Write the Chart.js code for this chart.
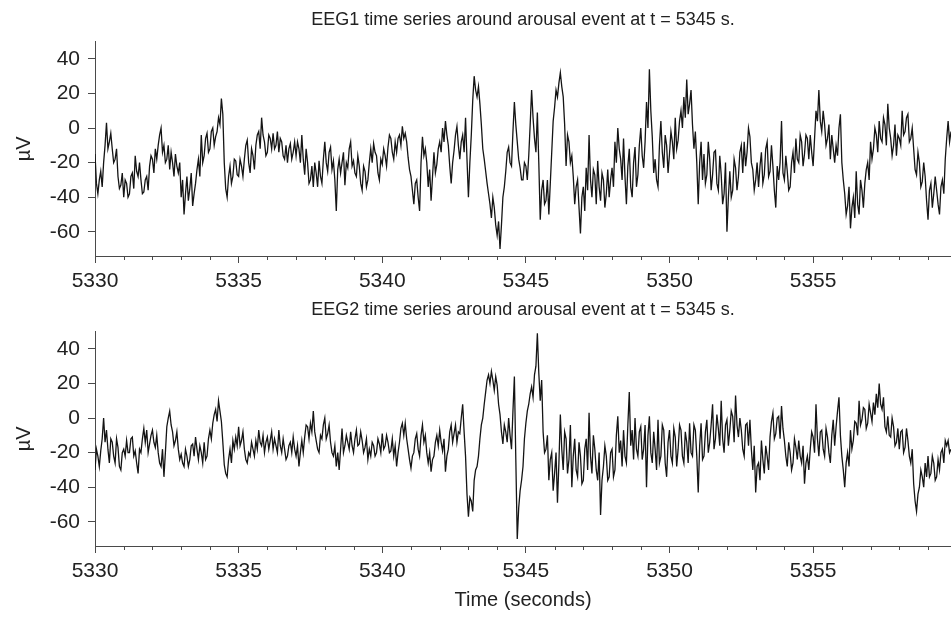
<!DOCTYPE html>
<html>
<head>
<meta charset="utf-8">
<script src="https://cdn.jsdelivr.net/npm/chart.js@4.4.1/dist/chart.umd.min.js"></script>
<style>
    html, body { margin: 0; padding: 0; background: #fff; }
    #page { position: relative; width: 951px; height: 617px; overflow: hidden; }
    .panel { position: absolute; left: 0; width: 951px; }
</style>
</head>
<body>
<div id="page">
    <div class="panel" style="top:0px;height:300px"><canvas id="eeg1" width="951" height="300"></canvas></div>
    <div class="panel" style="top:290px;height:327px"><canvas id="eeg2" width="951" height="327"></canvas></div>
</div>
<script>
// Sampling of the traced curves (seconds). Main values sit on the 0.1 s grid,
// the "mid" values are the opposite extreme read halfway between them.
const startTime = 5330;
const sampleStep = 0.1;

// EEG1, in µV, one row per second
const eeg1Values = [
    -15, -38, -25, -20, 3, -8, -12, -18, -28, -33,
    -40, -32, -38, -26, -16, -28, -30, -37, -28, -22,
    -18, -12, -10, 0, -10, -18, -24, -20, -15, -26,
    -40, -50, -28, -35, -45, -32, -18, -4, -16, -3,
    -12, 0, -5, 6, 17, -20, -40, -22, -28, -19,
    -28, -22, -18, -7, -26, -16, -10, -2, 6, -8,
    -14, -6, -3, -10, -14, -8, -18, -20, -9, -14,
    -16, -12, -4, -27, -20, -30, -34, -26, -19, -32,
    -8, -25, -11, -19, -48, -18, -20, -33, -23, -8,
    -19, -28, -22, -36, -25, -30, -12, -9, -16, -30,
    -21, -16, -11, -6, -18, -14, -4, 1, -3, -17,
    -28, -44, -30, -48, -5, -12, -34, -42, -14, -21,
    -8, 0, 4, -10, -32, -13, 1, -18, -4, 6,
    -40, -4, 30, 18, 14, -12, -25, -38, -52, -46,
    -62, -70, -40, -25, -11, -22, 15, -8, -23, -30,
    -22, -16, 22, -6, 9, -53, -30, -42, -50, -14,
    12, 18, 32, 18, -22, -8, -16, -44, -30, -61,
    -34, -23, -4, -40, -27, -19, -42, -30, -38, -40,
    -23, -8, 0, -18, -6, -44, -12, -40, -11, -27,
    0, -23, 15, 34, -5, -18, -34, 4, -23, -10,
    -15, -8, 6, -7, 10, 18, 28, 14, 2, -2,
    -44, -8, -15, -27, -18, -27, -13, -36, -27, -38,
    -60, -25, -36, -23, -28, -10, -8, -14, -5, -24,
    -30, -34, -14, -27, -8, -25, -22, -46, -30, 4,
    -30, -25, -34, -14, -6, -20, -8, -15, -6, -4,
    -22, 10, 22, -2, 2, -6, -18, -12, -10, 0,
    -20, -38, -45, -58, -40, -25, -50, -36, -32, -20,
    -8, -12, -4, 4, -8, 2, 14, -6, -10, -16,
    -6, 10, -2, 8, -6, -12, -27, -20, -31, -28,
    -53, -32, -38, -36, -50, -30, -18, 4, -2
];
const eeg1Mid = [
    -32, -30, -34, -10, -12, -3, -20, -12, -35, -26,
    -30, -40, -28, -35, -25, -20, -38, -30, -36, -16,
    -26, -18, -4, -14, -20, -10, -14, -28, -22, -20,
    -30, -38, -42, -26, -38, -24, -28, -20, -6, -14,
    -2, -10, -2, 2, 8, -35, -28, -32, -18, -27,
    -18, -28, -10, -20, -12, -24, -4, -12, -4, -16,
    -4, -12, -12, -2, -6, -16, -10, -12, -18, -8,
    -8, -20, -18, -12, -32, -22, -20, -34, -28, -18,
    -20, -14, -24, -30, -24, -26, -14, -20, -12, -22,
    -26, -16, -32, -22, -34, -20, -20, -14, -26, -18,
    -12, -22, -4, -14, -8, -6, -10, -6, -8, -24,
    -36, -32, -40, -20, -16, -20, -24, -28, -26, -12,
    -14, -8, -4, -22, -20, -4, -10, -8, -14, -18,
    -20, 16, 22, 24, 2, -18, -32, -44, -40, -56,
    -54, -56, -34, -14, -20, -2, 2, -18, -30, -20,
    -30, 2, 6, -14, -20, -36, -44, -30, -32, 4,
    22, 26, 24, 2, -4, -20, -28, -34, -46, -40,
    -48, -36, -30, -24, -44, -34, -26, -46, -24, -30,
    -34, -20, -12, -30, -28, -22, -34, -20, -34, -10,
    -16, -8, 0, 10, -26, -30, -10, -14, -4, -26,
    -2, -18, -12, 4, 0, 6, 8, 22, -12, -20,
    -20, -30, -32, -8, -36, -14, -32, -16, -44, -20,
    -40, -40, -18, -36, -14, -26, -22, 0, -20, -36,
    -20, -22, -32, -12, -28, -10, -36, -22, -20, -26,
    -16, -36, -20, -26, -18, -4, -22, -4, -18, -14,
    -6, 4, 4, 10, -10, 2, -4, -20, -16, 8,
    -30, -50, -34, -46, -52, -44, -30, -46, -24, -30,
    -18, 0, -14, -6, 6, -10, 0, -16, 2, -4,
    -10, -4, 6, -8, 0, -24, -14, -34, -20, -42,
    -36, -46, -28, -44, -34, -38, -6, -8
];

// EEG2, in µV, one row per second
const eeg2Values = [
    -30, -22, -19, 0, -7, -26, -14, -26, -17, -30,
    -18, -13, -20, -11, -19, -32, -20, -6, -7, -15,
    -7, -17, -20, -28, -34, -5, 4, -8, -13, -18,
    -21, -28, -22, -24, -15, -11, -24, -20, -14, -22,
    -7, -3, 5, 10, -2, -27, -34, -18, -13, -11,
    -5, -13, -18, -26, -22, -18, -13, -7, -16, -20,
    -11, -13, -18, -16, -7, -20, -18, -22, -14, -11,
    -22, -28, -13, -11, -5, -3, 4, -13, -20, -12,
    0, -9, -14, -22, -28, -30, -6, -16, -14, -8,
    -20, -7, -15, -13, -17, -24, -22, -16, -20, -15,
    -9, -16, -14, -19, -22, -28, -14, -3, -3, -18,
    -29, -20, -9, -22, -4, -10, -26, -31, -22, -10,
    -7, -19, -31, -18, -4, -9, -14, -9, 8, -22,
    -57, -48, -36, -28, -12, 0, 15, 25, 27, 16,
    19, 2, -15, -8, 0, -18, 24, -70, -42, -28,
    -3, 8, 18, 25, 49, 10, -8, -18, -36, -20,
    -32, -49, 2, -30, -12, -24, -40, -12, -34, -22,
    -36, -12, 3, -32, -18, -36, -56, -28, -22, -34,
    -18, -30, 1, -13, -7, -26, 15, -7, 0, -22,
    -5, -18, -40, 1, -26, -18, -1, -22, -7, -34,
    -7, -26, -11, -18, -7, -26, -14, -3, -22, -7,
    -43, -3, -22, -1, -14, 8, -12, -6, 10, -20,
    -1, -7, 1, 13, -11, -7, -22, -3, -1, -30,
    -43, -26, -13, -32, -22, -11, 3, -9, 1, 7,
    -13, -28, -20, -26, -17, -13, -26, -38, -22, -18,
    -11, 8, -22, -7, -22, -11, -26, -1, -5, 12,
    -22, -40, -20, -7, -13, -3, 10, -1, 5, -3,
    3, 9, 14, 20, 5, -5, 1, -11, -5, -14,
    -18, -7, -17, -13, -26, -38, -54, -40, -34, -26,
    -22, -32, -26, -34, -30, -18, -13, -13, -18
];
const eeg2Mid = [
    -18, -28, -12, -14, -18, -12, -22, -12, -28, -20,
    -22, -20, -12, -22, -26, -18, -12, -14, -20, -10,
    -14, -10, -26, -18, -20, 0, -4, -16, -8, -24,
    -26, -18, -28, -16, -22, -18, -16, -26, -24, -12,
    -12, 2, -2, 4, -14, -32, -24, -26, -18, -16,
    -16, -8, -24, -20, -14, -22, -18, -14, -10, -14,
    -18, -8, -12, -20, -16, -12, -24, -16, -20, -18,
    -16, -20, -20, -4, -12, -8, -8, -18, -10, -4,
    -12, -4, -20, -16, -20, -18, -20, -10, -18, -16,
    -12, -16, -8, -20, -12, -18, -14, -22, -12, -20,
    -18, -10, -20, -12, -16, -20, -6, -10, -12, -24,
    -22, -12, -18, -10, -14, -20, -20, -24, -14, -16,
    -14, -12, -22, -8, -14, -4, -8, 0, -8, -44,
    -46, -54, -30, -22, -4, 8, 22, 20, 22, 24,
    8, -8, -4, -14, -10, 4, -24, -52, -36, -12,
    4, 14, 12, 30, 26, 22, -20, -10, -24, -42,
    -20, -26, -18, -8, -32, -4, -22, -30, -14, -38,
    -18, -30, -22, -10, -30, -20, -36, -16, -36, -20,
    -34, -10, -20, -28, -22, -4, -16, -24, -18, -8,
    -24, -4, -10, -20, -8, -30, -26, -4, -26, -14,
    -22, -6, -28, -4, -22, -8, -26, -20, -4, -22,
    -16, -24, -8, -20, -4, -18, 2, -16, -12, -4,
    -16, 4, -14, -4, 0, -18, -4, -16, -18, -16,
    -28, -36, -24, -16, -30, -2, -12, 0, -12, -6,
    -22, -14, -30, -12, -24, -22, -16, -26, -30, -8,
    -20, -12, -8, -18, -6, -20, -10, -16, 4, -10,
    -30, -26, -28, -18, -2, -10, -4, 6, -6, 8,
    -2, 2, 6, 8, 12, -8, -10, 0, -16, -6,
    -8, -20, -6, -22, -18, -48, -44, -30, -40, -34,
    -34, -22, -36, -24, -20, -26, -16, -20
];

const xMajorTicks = [5330, 5335, 5340, 5345, 5350, 5355];
const xMinorTicks = [5331, 5332, 5333, 5334, 5336, 5337, 5338, 5339, 5341, 5342, 5343, 5344,
    5346, 5347, 5348, 5349, 5351, 5352, 5353, 5354, 5356, 5357, 5358, 5359];
const yTicks = [-60, -40, -20, 0, 20, 40];

const titles = [
    "EEG1 time series around arousal event at t = 5345 s.",
    "EEG2 time series around arousal event at t = 5345 s."
];

const FONT = "'Liberation Sans', Arial, Helvetica, sans-serif";
const AXIS_COLOR = "#4a4a4a";

/**
 * Short ticks for every whole second, drawn below the x axis line.
 */
const minorTickPlugin = {
    id: "minorTicks",
    afterDraw(chart) {
        const xScale = chart.scales.x;
        const ctx = chart.ctx;
        const y0 = chart.chartArea.bottom;
        ctx.save();
        ctx.strokeStyle = AXIS_COLOR;
        ctx.lineWidth = 1;
        ctx.beginPath();
        xMinorTicks.forEach((v) => {
            const px = Math.round(xScale.getPixelForValue(v)) + 0.5;
            ctx.moveTo(px, y0);
            ctx.lineTo(px, y0 + 4);
        });
        ctx.stroke();
        ctx.restore();
    }
};

/**
 * Merge grid values and halfway values into one x/y point list.
 */
function toPoints(values, mids) {
    const pts = [];
    values.forEach((v, i) => {
        pts.push({x: startTime + i * sampleStep, y: v});
        if (i < mids.length) {
            pts.push({x: startTime + (i + 0.5) * sampleStep, y: mids[i]});
        }
    });
    return pts;
}

function makeChart(canvasId, values, mids, title, axisHeight, showXTitle) {
    return new Chart(document.getElementById(canvasId), {
        type: "line",
        data: {
            datasets: [{
                data: toPoints(values, mids),
                borderColor: "#141414",
                borderWidth: 1.3,
                pointRadius: 0,
                tension: 0
            }]
        },
        options: {
            responsive: false,
            animation: false,
            devicePixelRatio: 1,
            layout: {padding: {left: 0, right: 0, top: 0, bottom: 0}},
            plugins: {
                legend: {display: false},
                tooltip: {enabled: false},
                title: {
                    display: true,
                    fullSize: false,
                    text: title,
                    color: "#222",
                    font: {family: FONT, size: 18, weight: "normal"},
                    padding: {top: 9, bottom: 11}
                }
            },
            scales: {
                x: {
                    type: "linear",
                    min: 5330,
                    max: 5359.8,
                    afterBuildTicks: (scale) => { scale.ticks = xMajorTicks.map((v) => ({value: v})); },
                    afterFit: (scale) => { scale.height = axisHeight; },
                    grid: {drawOnChartArea: false, drawTicks: true, tickLength: 7, tickColor: AXIS_COLOR},
                    border: {display: true, color: AXIS_COLOR, width: 1},
                    ticks: {
                        color: "#222",
                        padding: 6,
                        maxRotation: 0,
                        autoSkip: false,
                        font: {family: FONT, size: 21},
                        callback: (v) => String(v)
                    },
                    title: {
                        display: showXTitle,
                        text: "Time (seconds)",
                        color: "#222",
                        font: {family: FONT, size: 20},
                        padding: {top: 0, bottom: 5}
                    }
                },
                y: {
                    min: -74,
                    max: 50,
                    afterBuildTicks: (scale) => { scale.ticks = yTicks.map((v) => ({value: v})); },
                    afterFit: (scale) => { scale.width = 95; },
                    grid: {drawOnChartArea: false, drawTicks: true, tickLength: 7, tickColor: AXIS_COLOR},
                    border: {display: true, color: AXIS_COLOR, width: 1},
                    ticks: {
                        color: "#222",
                        padding: 8,
                        font: {family: FONT, size: 21}
                    },
                    title: {
                        display: true,
                        text: "µV",
                        color: "#222",
                        font: {family: FONT, size: 20},
                        padding: {top: 12, bottom: 0}
                    }
                }
            }
        },
        plugins: [minorTickPlugin]
    });
}

makeChart("eeg1", eeg1Values, eeg1Mid, titles[0], 44, false);
makeChart("eeg2", eeg2Values, eeg2Mid, titles[1], 71, true);
</script>
</body>
</html>
